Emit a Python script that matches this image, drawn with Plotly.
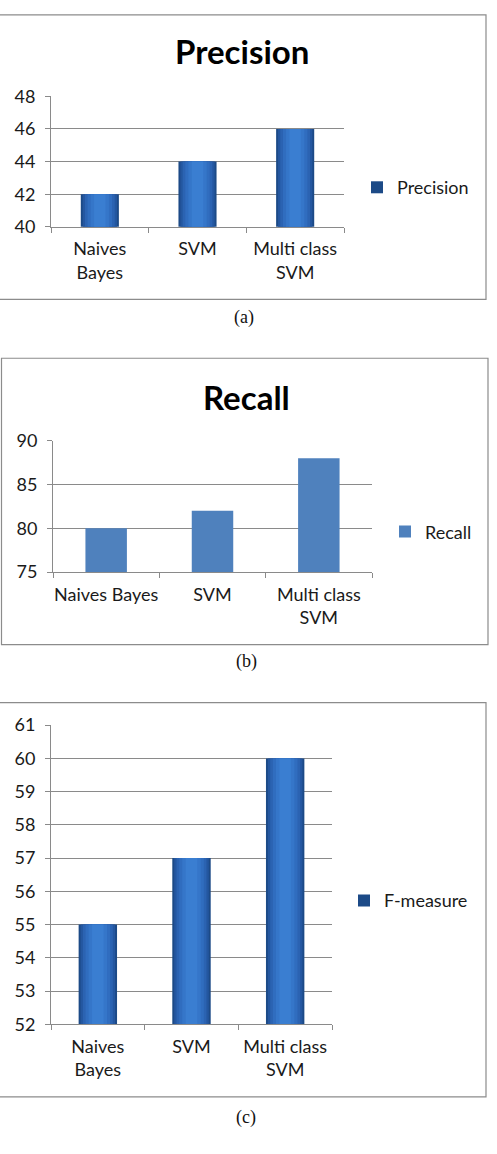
import plotly.graph_objects as go

# ---------------- data ----------------
categories = ["Naives Bayes", "SVM", "Multi class SVM"]
labels_two_line = ["Naives<br>Bayes", "SVM", "Multi class<br>SVM"]
labels_recall = ["Naives Bayes", "SVM", "Multi class<br>SVM"]

precision = [42, 44, 46]
recall = [80, 82, 88]
fmeasure = [55, 57, 60]

ticks_precision = [40, 42, 44, 46, 48]
ticks_recall = [75, 80, 85, 90]
ticks_fmeasure = [52, 53, 54, 55, 56, 57, 58, 59, 60, 61]

W, H = 497, 1154
FONT = "Lato, 'Open Sans', sans-serif"
GRID = "#8a8a8a"
TXT = "#1a1a1a"
FS = 18


def px(xp):
    return xp / W


def py(yp):
    return 1 - yp / H


fig = go.Figure()

# gradient-like bars: layered overlays of decreasing width
layers = [("#1c4a87", 1.0), ("#2457a0", 0.9), ("#2b63b2", 0.78),
          ("#306dbf", 0.64), ("#3576c9", 0.48), ("#3a7ed1", 0.3)]


def add_grad(values, name, xa, ya, legend, width):
    for i, (col, f) in enumerate(layers):
        fig.add_trace(go.Bar(
            x=categories, y=values, name=name,
            marker=dict(color=col, line=dict(width=0)),
            width=width * f, xaxis=xa, yaxis=ya,
            showlegend=(i == 0), legend=legend,
            hoverinfo="skip" if i else None,
        ))


add_grad(precision, "Precision", "x", "y", "legend", 0.39)
fig.add_trace(go.Bar(
    x=categories, y=recall, name="Recall",
    marker=dict(color="#4f81bd", line=dict(width=0)),
    width=0.39, xaxis="x2", yaxis="y2", legend="legend2",
))
add_grad(fmeasure, "F-measure", "x3", "y3", "legend3", 0.41)

axis_common = dict(
    showline=True, linecolor=GRID, linewidth=1,
    ticks="outside", ticklen=5, tickcolor=GRID, tickwidth=1,
    tickfont=dict(family=FONT, size=FS, color=TXT),
    fixedrange=True,
)

panels = [
    ("xaxis", "yaxis", (51, 344), (219, 86), [40, 48], ticks_precision, labels_two_line),
    ("xaxis2", "yaxis2", (53, 372), (571, 437), [75, 90], ticks_recall, labels_recall),
    ("xaxis3", "yaxis3", (51, 332), (1032, 727), [52, 61], ticks_fmeasure, labels_two_line),
]

for i, (xk, yk, xd, yd, rng, yt, lab) in enumerate(panels):
    anchor_x = "y" if i == 0 else f"y{i+1}"
    anchor_y = "x" if i == 0 else f"x{i+1}"
    fig.layout[xk] = dict(
        domain=[px(xd[0]), px(xd[1])], anchor=anchor_x,
        type="category", categoryorder="array", categoryarray=categories,
        tickvals=categories, ticktext=lab, tickson="boundaries",
        range=[-0.5, 2.5], showgrid=False, ticklabelstandoff=6, tickangle=0,
        **axis_common,
    )
    fig.layout[yk] = dict(
        domain=[py(yd[0]), py(yd[1])], anchor=anchor_y,
        range=rng, tickvals=yt, showgrid=True, gridcolor=GRID, gridwidth=1,
        zeroline=False, ticklabelstandoff=6,
        **axis_common,
    )

legend_common = dict(
    font=dict(family=FONT, size=FS, color=TXT), bgcolor="rgba(0,0,0,0)",
    xanchor="left", yanchor="middle", itemclick=False, itemdoubleclick=False,
)
fig.update_layout(
    legend=dict(x=px(357), y=py(179), **legend_common),
    legend2=dict(x=px(385), y=py(530), **legend_common),
    legend3=dict(x=px(344), y=py(906), **legend_common),
)

# panel borders
for (x0, y0, x1, y1) in [(-1, 3, 486, 293), (1.5, 353, 488, 645), (-1, 704, 486, 1106)]:
    fig.add_shape(type="rect", xref="paper", yref="paper",
                  x0=px(x0), x1=px(x1), y0=py(y1), y1=py(y0),
                  line=dict(color="#8c8c8c", width=1.2), fillcolor="rgba(0,0,0,0)",
                  layer="below")

# titles
for (txt, xc, yc) in [("Precision", 242, 40), ("Recall", 246, 392)]:
    fig.add_annotation(text=f"<b>{txt}</b>", xref="paper", yref="paper",
                       x=px(xc), y=py(yc), xanchor="center", yanchor="middle",
                       showarrow=False, font=dict(family=FONT, size=33, color="#000000"))

# captions
for (txt, xc, yc) in [("(a)", 244, 311), ("(b)", 246, 662), ("(c)", 246, 1127)]:
    fig.add_annotation(text=txt, xref="paper", yref="paper",
                       x=px(xc), y=py(yc), xanchor="center", yanchor="middle",
                       showarrow=False,
                       font=dict(family="'Liberation Serif', 'DejaVu Serif', serif", size=18, color="#111111"))

fig.update_layout(
    width=W, height=H, margin=dict(l=0, r=0, t=0, b=0),
    paper_bgcolor="white", plot_bgcolor="white",
    barmode="overlay", bargap=0.6,
)

fig.write_html("out.html", config={"displayModeBar": False})
